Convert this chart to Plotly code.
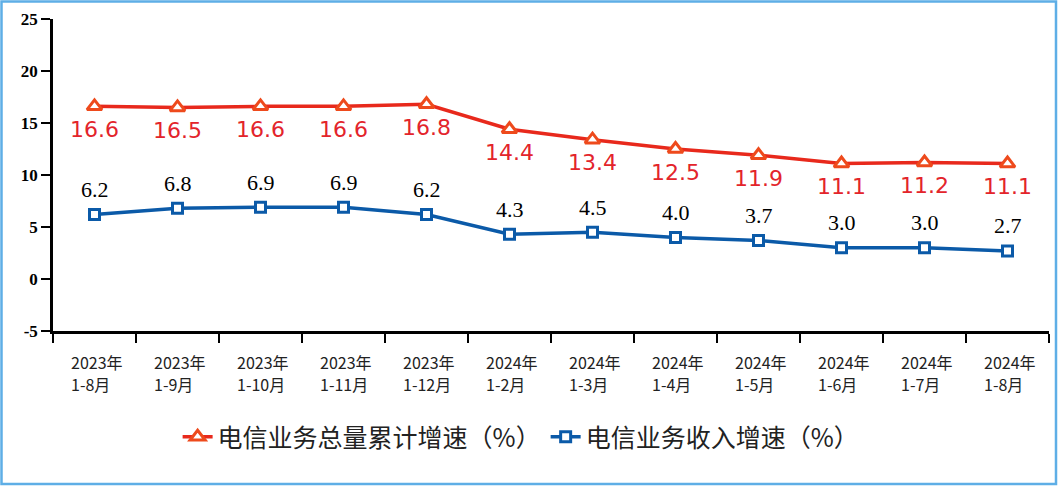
import plotly.graph_objects as go

years = ["2023年"] * 5 + ["2024年"] * 7
months = ["1-8月", "1-9月", "1-10月", "1-11月", "1-12月", "1-2月",
          "1-3月", "1-4月", "1-5月", "1-6月", "1-7月", "1-8月"]
periods = [f"{y}<br>{m}" for y, m in zip(years, months)]
volume_growth = [16.6, 16.5, 16.6, 16.6, 16.8, 14.4, 13.4, 12.5, 11.9, 11.1, 11.2, 11.1]
revenue_growth = [6.2, 6.8, 6.9, 6.9, 6.2, 4.3, 4.5, 4.0, 3.7, 3.0, 3.0, 2.7]
y_ticks = [-5, 0, 5, 10, 15, 20, 25]
y_labels = ["-5", "0", "5", "10", "15", "20", "25"]

W, H = 1058, 486
ml, mr, mt, mb = 53, 9, 19, 155
pw, ph = W - ml - mr, H - mt - mb

fig = go.Figure()
fig.add_trace(go.Scatter(
    x=periods, y=volume_growth, mode="lines+markers", name="电信业务总量累计增速（%）",
    line=dict(color="#e8291c", width=3.5),
    marker=dict(symbol="triangle-up", size=13, color="white",
                line=dict(color="#ee4a1c", width=3))))
fig.add_trace(go.Scatter(
    x=periods, y=revenue_growth, mode="lines+markers", name="电信业务收入增速（%）",
    line=dict(color="#0b5aa8", width=3.5),
    marker=dict(symbol="square", size=10, color="white",
                line=dict(color="#0b5aa8", width=3))))

# data labels: red below, black above
for p, v in zip(periods, volume_growth):
    fig.add_annotation(x=p, y=v, text=f"{v:.1f}", showarrow=False, yshift=-23,
                       font=dict(family="DejaVu Sans", size=22, color="#e3242b"))
for p, v in zip(periods, revenue_growth):
    fig.add_annotation(x=p, y=v, text=f"{v:.1f}", showarrow=False, yshift=25,
                       font=dict(family="Liberation Serif", size=22, color="black"))

# category labels: year on top, month below, both starting at the same x
lab_font = dict(family="Noto Sans CJK SC", size=16, color="#222")
for p, y, m in zip(periods, years, months):
    fig.add_annotation(x=p, xref="x", y=-31 / ph, yref="paper", yanchor="middle",
                       xanchor="left", xshift=-26, text=y, showarrow=False, font=lab_font)
    fig.add_annotation(x=p, xref="x", y=-53 / ph, yref="paper", yanchor="middle",
                       xanchor="left", xshift=-26, text=m, showarrow=False, font=lab_font)

# light blue frame round the picture
fig.add_shape(type="rect", xref="paper", yref="paper",
              x0=-(ml - 1.5) / pw, x1=1 + (mr - 2) / pw,
              y0=-(mb - 2) / ph, y1=1 + (mt - 1.5) / ph,
              line=dict(color="#5eaee6", width=2.5))

fig.update_layout(
    width=W, height=H, margin=dict(l=ml, r=mr, t=mt, b=mb),
    paper_bgcolor="white", plot_bgcolor="white",
    showlegend=True,
    legend=dict(orientation="h", x=0.47, xanchor="center", y=-0.34, yanchor="middle",
                font=dict(family="Noto Sans CJK SC", size=25, color="#222"),
                itemwidth=30),
    xaxis=dict(type="category", showline=True, linecolor="black", linewidth=2.5,
               ticks="outside", tickson="boundaries", ticklen=9, tickwidth=1.5,
               tickcolor="black", showgrid=False, range=[-0.5, 11.5],
               showticklabels=False),
    yaxis=dict(range=[-5, 25], tickvals=y_ticks, ticktext=y_labels, showline=True,
               linecolor="black", linewidth=2.5, ticks="outside", ticklen=9,
               tickwidth=1.5, tickcolor="black", showgrid=False, zeroline=False,
               tickfont=dict(family="Liberation Serif", size=17, color="black", weight="bold")),
)

fig.write_html("out.html", config={"displayModeBar": False},
               post_script="document.body.style.margin='0px';")
